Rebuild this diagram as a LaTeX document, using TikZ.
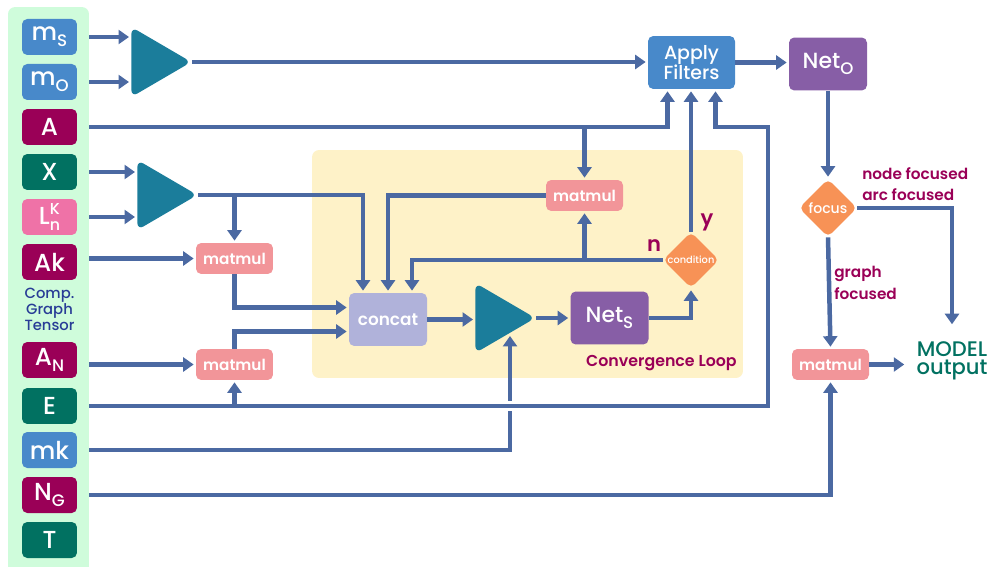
\documentclass[tikz,border=0pt]{standalone}
\usepackage{fontspec}
\setmainfont{Poppins}[UprightFont=* Medium, BoldFont=* SemiBold]
\usepackage{tikz}
\usetikzlibrary{shapes.geometric,arrows.meta}

\definecolor{cblue}{HTML}{4889CA}
\definecolor{cwine}{HTML}{9A0057}
\definecolor{cteal}{HTML}{017161}
\definecolor{cpink}{HTML}{EF72A7}
\definecolor{ctri}{HTML}{1B7D9B}
\definecolor{cmat}{HTML}{F29599}
\definecolor{cconcat}{HTML}{B0B2DA}
\definecolor{cpurple}{HTML}{875EA6}
\definecolor{corange}{HTML}{F79256}
\definecolor{cline}{HTML}{4B69A2}
\definecolor{cloop}{HTML}{FEF2C8}
\definecolor{cpanel}{HTML}{CFFCDB}
\definecolor{ctxt}{HTML}{283C96}

\newcommand{\fsz}[2]{\fontsize{#1}{#2}\selectfont}
\newcommand{\dn}[1]{\raisebox{-0.45ex}{\fsz{9.5}{10}#1}}

\begin{document}
\begin{tikzpicture}[x=0.02cm,y=-0.02cm,
  tensor/.style={rectangle, rounded corners=3pt, minimum width=1.1cm, minimum height=0.72cm, inner sep=0pt, text=white, font=\fsz{14}{14}},
  mat/.style={rectangle, rounded corners=3pt, fill=cmat, minimum width=1.54cm, minimum height=0.62cm, inner sep=0pt, text=white, font=\fsz{8.7}{9}\bfseries},
  amp/.style={isosceles triangle, isosceles triangle stretches, shape border rotate=0, minimum width=1.4cm, minimum height=1.2cm, inner sep=0pt, fill=ctri, rounded corners=4pt, anchor=west},
  net/.style={rectangle, rounded corners=3pt, fill=cpurple, minimum width=1.56cm, minimum height=1.06cm, inner sep=0pt, text=white, font=\fsz{12.5}{13}},
  dec/.style={diamond, fill=corange, minimum size=1.14cm, inner sep=0pt, rounded corners=3pt, text=white},
  lbl/.style={text=cwine, font=\fsz{8.7}{12}\bfseries, align=left, inner sep=0pt},
  wire/.style={draw=cline, line width=0.09cm},
  arr/.style={wire, -{Triangle[length=0.21cm,width=0.28cm]}, shorten >=0.04cm},
]
\useasboundingbox (0,0) rectangle (989,567);

% backgrounds
\node[fill=cpanel, rounded corners=4pt, minimum width=1.62cm, minimum height=11.8cm, inner sep=0pt] (cgt) at (48.5,302) {};
\node[fill=cloop, rounded corners=4pt, minimum width=8.62cm, minimum height=4.56cm, inner sep=0pt] (loop) at (527.5,264) {};

% graph tensor
\node[tensor, fill=cblue] (ms) at (49.5,37) {m\dn{S}};
\node[tensor, fill=cblue] (mo) at (49.5,82) {m\dn{O}};
\node[tensor, fill=cwine] (A) at (49.5,127) {A};
\node[tensor, fill=cteal] (X) at (49.5,172) {X};
\node[tensor, fill=cpink] (L) at (49.5,217) {L\rlap{\raisebox{0.75ex}{\fsz{9}{9}K}}\raisebox{-0.5ex}{\fsz{9}{9}n}};
\node[tensor, fill=cwine] (Ak) at (49.5,262) {Ak};
\node[text=ctxt, font=\fsz{8.4}{9.1}, align=center, inner sep=0pt] (cgtl) at (49.5,309) {Comp.\\Graph\\Tensor};
\node[tensor, fill=cwine] (AN) at (49.5,360) {A\dn{N}};
\node[tensor, fill=cteal] (E) at (49.5,406) {E};
\node[tensor, fill=cblue] (mk) at (49.5,450) {mk};
\node[tensor, fill=cwine] (NG) at (49.5,495) {N\dn{G}};
\node[tensor, fill=cteal] (T) at (49.5,540) {T};

\node[amp] (t1) at (131,62) {};
\node[amp] (t2) at (137,195) {};
\node[amp] (t3) at (475,318) {};

\node[mat] (mm1) at (234.5,258.5) {matmul};
\node[mat] (mm2) at (234.5,364.5) {matmul};
\node[mat] (mm3) at (584.5,195.5) {matmul};
\node[mat] (mm4) at (830.5,364.5) {matmul};

\node[rectangle, rounded corners=3pt, fill=cconcat, minimum width=1.56cm, minimum height=1.06cm, text=white, font=\fsz{9.6}{10}\bfseries] (cc) at (388,319.5) {concat};
\node[net] (ns) at (609.5,318) {Net\dn{S}};
\node[net] (no) at (828,64) {Net\dn{O}};
\node[rectangle, rounded corners=3pt, fill=cblue, minimum width=1.74cm, minimum height=1.06cm, text=white, align=center, font=\fsz{10.8}{11.3}] (af) at (691.5,62.5) {Apply\\Filters};

\node[dec, minimum size=1.12cm, font=\fsz{5.6}{6}] (cond) at (691,260) {condition};
\node[dec, minimum size=1.16cm, font=\fsz{8}{8}] (fc) at (828,208) {focus};
\node[text=cteal, align=center, font=\fsz{12}{10.5}, inner xsep=0.2cm, inner ysep=0.3cm] (out) at (952,361) {MODEL\\output};

\node[lbl, anchor=east, font=\fsz{9}{9}\bfseries] (cl) at (737,363) {Convergence Loop};
\node[lbl, anchor=north west] (nf) at (862,167) {node focused\\arc focused};
\node[lbl, anchor=north west, font=\fsz{8.7}{12.5}\bfseries] (gf) at (834,266) {graph\\focused};
\node[text=cwine, font=\fsz{12}{12}\bfseries, inner sep=0pt] (lno) at (654,246) {n};
\node[text=cwine, font=\fsz{12}{12}\bfseries, inner sep=0pt] (lyes) at (707,222) {y};

\coordinate (mkin) at (510,334);
\coordinate (ecorner) at (768,127);

% connectors
\draw[arr] (cgt.east |- ms) -- (ms -| t1.west);
\draw[arr] (cgt.east |- mo) -- (mo -| t1.west);
\draw[arr] (t1.apex) -- (t1.apex -| af.west);
\draw[arr] (cgt.east |- A) -| ([xshift=-0.48cm]af.south);
\draw[arr] (mm3 |- A) -- (mm3.north);
\draw[arr] (cgt.east |- X) -- (X -| t2.west);
\draw[arr] (cgt.east |- L) -- (L -| t2.west);
\draw[arr] (t2.apex) -| ([xshift=-0.5cm]cc.north);
\draw[arr] (mm1 |- t2.apex) -- (mm1.north);
\draw[arr] (cgt.east |- mm1) -- (mm1.west);
\draw[arr] (mm1.south) |- ([yshift=0.24cm]cc.west);
\draw[arr] (cgt.east |- mm2) -- (mm2.west);
\draw[arr] (mm2.north) |- ([yshift=-0.24cm]cc.west);
\draw[arr] (cgt.east |- mk) -| (mkin);
\draw[arr, preaction={draw=white, line width=0.2cm, -}] (cgt.east |- E) -| (ecorner) -| ([xshift=0.48cm]af.south);
\draw[arr] (mm2 |- E) -- (mm2.south);
\draw[arr] (cgt.east |- NG) -| (mm4.south);
\draw[arr] (cc.east) -- (cc.east -| t3.west);
\draw[arr] (t3.apex) -- (t3.apex -| ns.west);
\draw[arr] (ns.east) -| (cond.south);
\draw[arr] (cond.north) -- (cond.north |- af.south);
\draw[arr] (cond.west) -| ([xshift=0.48cm]cc.north);
\draw[arr] (mm3 |- cond.west) -- (mm3.south);
\draw[arr] (mm3.west) -| (cc.north);
\draw[arr] (af.east) -- (af.east -| no.west);
\draw[arr] (no.south) -- (fc.north);
\draw[arr] (fc.east) -| (out.north);
\draw[arr] (fc.south) -- (mm4.north);
\draw[arr] (mm4.east) -- (mm4.east -| out.west);
\end{tikzpicture}
\end{document}
